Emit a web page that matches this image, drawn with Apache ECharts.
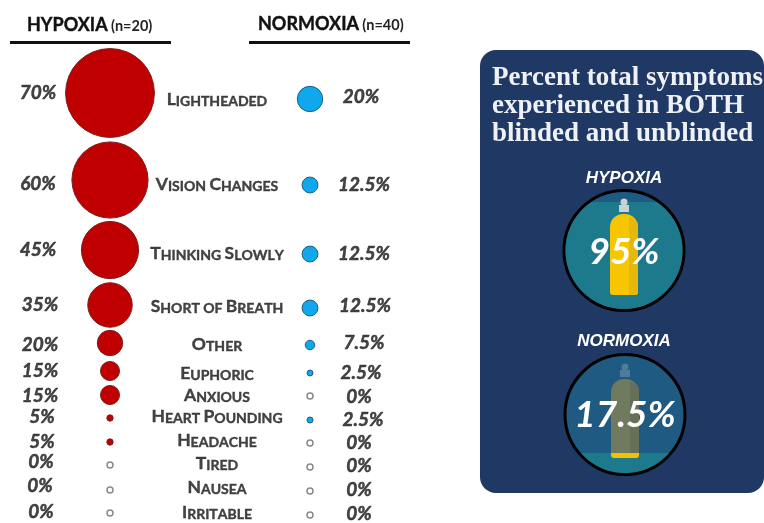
<!DOCTYPE html>
<html>
<head>
<meta charset="utf-8">
<title>Symptoms</title>
<style>
html,body{margin:0;padding:0;background:#fff;}
#main{width:764px;height:523px;}
</style>
<script src="https://cdn.jsdelivr.net/npm/echarts@6/dist/echarts.min.js"></script>
</head>
<body>
<div id="main"></div>
<script>
// values
var symptoms = ['Lightheaded','Vision Changes','Thinking Slowly','Short of Breath','Other','Euphoric','Anxious','Heart Pounding','Headache','Tired','Nausea','Irritable'];
var hypoxia = [70,60,45,35,20,15,15,5,5,0,0,0];
var normoxia = [20,12.5,12.5,12.5,7.5,2.5,0,2.5,0,0,0,0];
var totals = [95,17.5];

// row positions, the rows of the original are not evenly spaced
var hypoxiaY = [93,180,250,305,343,371,395,418,442,465,490,513];
var normoxiaY = [99,185,254,308,345,373,396,420,443,467,491,515];
var symptomY = [98.5,183.5,252.5,305.5,343.5,372.5,394.5,415.5,439.5,462.5,486.5,511.5];
var hypoxiaTextY = [93,184,250,305,345,371,396,417,442,462,486,512];
var normoxiaTextY = [97,185,254,306,343,373,397,420,443,466,490,514];
var hypoxiaTextX = [38,38,38,40,40,40,40,42,42,41,40,41];
var normoxiaTextX = [361,364,364,365,364,361,359,363,359,359,359,359];

function pairs(xs, ys, vals){
	return vals.map(function(v,i){
		return [typeof xs == 'number' ? xs : xs[i], ys[i], v];
	});
}

function bubbleSeries(name, x, ys, vals, color, border){
	return {
		name: name,
		type: 'scatter',
		silent: true,
		symbolSize: function(d){ return d[2] == 0 ? 6 : Math.max(d[2]*1.27, 6); },
		itemStyle: {opacity: 1},
		data: pairs(x, ys, vals).map(function(d){
			return {
				value: d,
				itemStyle: d[2] == 0 ?
					{color:'#fff', borderColor:'#8a8a8a', borderWidth:1.5} :
					{color:color, borderColor:border, borderWidth:1}
			};
		})
	};
}

function textSeries(name, xs, ys, vals){
	return {
		name: name,
		type: 'scatter',
		silent: true,
		symbolSize: 0,
		label: {
			show: true,
			position: 'inside',
			formatter: function(p){ return p.value[2] + '%'; },
			fontFamily: 'Lato',
			fontWeight: 'bold',
			fontStyle: 'italic',
			fontSize: 19,
			color: '#151515',
			textBorderColor: '#151515',
			textBorderWidth: 0.5
		},
		data: pairs(xs, ys, vals)
	};
}

// small caps: capitals stay big, the rest become small capitals
function smallCaps(s){
	return s.split('').map(function(c){
		if (c == ' ') return '{b| }';
		if (c == c.toUpperCase()) return '{a|' + c + '}';
		return '{b|' + c.toUpperCase() + '}';
	}).join('');
}

function circlePart(cx, cy, r, topY){
	// part of a circle below topY
	var pts = [];
	var a0 = Math.asin((topY-cy)/r);
	for (var i=0;i<=60;i++){
		var a = a0 + (Math.PI-2*a0)*i/60;
		pts.push([cx+r*Math.cos(a), cy+r*Math.sin(a)]);
	}
	return pts;
}

function bottle(cx, top, bottom, body, shade, cap){
	return [
		{type:'rect', shape:{x:cx-5,y:top-9,width:10,height:7}, style:{fill:cap}},
		{type:'circle', shape:{cx:cx,cy:top-12,r:3.5}, style:{fill:cap}},
		{type:'rect', shape:{x:cx-14,y:top,width:28,height:bottom-top,r:[13,13,3,3]}, style:{fill:body}},
		{type:'rect', shape:{x:cx+5,y:top+3,width:9,height:bottom-top-3,r:[0,10,3,0]}, style:{fill:shade}}
	];
}

var pct = function(v){ return v + '%'; };

var panel = [
	{type:'rect', shape:{x:480,y:50,width:284,height:443,r:16}, style:{fill:'#1f3864'}},
	{type:'text', x:492, y:64, style:{text:'Percent total symptoms\nexperienced in BOTH\nblinded and unblinded', fill:'#eef1f6', font:'bold 27px "Liberation Serif"', lineHeight:28}},
	{type:'text', x:624, y:178, style:{text:'HYPOXIA', fill:'#fff', font:'italic bold 17px "Liberation Sans"', align:'center', verticalAlign:'middle'}},
	{type:'circle', shape:{cx:624,cy:250.5,r:60}, style:{fill:'#1f5a82', stroke:'#000', lineWidth:3}},
	{type:'polygon', shape:{points:circlePart(624,250.5,58.5,202)}, style:{fill:'#1d7a8c'}}
].concat(bottle(624,214,295,'#f7c600','#e8b70c','#c9d2d4')).concat([
	{type:'text', x:624, y:252, style:{text:pct(totals[0]), fill:'#fff', font:'italic bold 37px Lato', align:'center', verticalAlign:'middle'}},
	{type:'text', x:624, y:341, style:{text:'NORMOXIA', fill:'#fff', font:'italic bold 17px "Liberation Sans"', align:'center', verticalAlign:'middle'}},
	{type:'circle', shape:{cx:625,cy:414.5,r:60}, style:{fill:'#1f5a82', stroke:'#000', lineWidth:3}},
	{type:'polygon', shape:{points:circlePart(625,414.5,58.5,453)}, style:{fill:'#1d7a8c'}}
]).concat(bottle(625,379,458,'#6f7a5f','#667058','#4f7c9c')).concat([
	{type:'rect', shape:{x:611,y:453,width:28,height:5,r:[0,0,3,3]}, style:{fill:'#f2c200'}},
	{type:'text', x:625, y:415, style:{text:pct(totals[1]), fill:'#fff', font:'italic bold 37px Lato', align:'center', verticalAlign:'middle'}}
]);

var headRich = {
	h:{fontFamily:'Lato',fontWeight:'bold',fontSize:18,fill:'#111',stroke:'#111',lineWidth:0.4,verticalAlign:'bottom',lineHeight:22},
	n:{fontFamily:'Lato',fontWeight:'bold',fontSize:14.5,fill:'#222',verticalAlign:'bottom',lineHeight:22}
};
var headers = [
	{type:'text', x:27, y:12, style:{rich:headRich, text:'{h|HYPOXIA} {n|(n=20)}'}},
	{type:'text', x:258, y:11, style:{rich:headRich, text:'{h|NORMOXIA} {n|(n=40)}'}},
	{type:'rect', shape:{x:10,y:41,width:161,height:3}, style:{fill:'#111'}},
	{type:'rect', shape:{x:249,y:41,width:161,height:3}, style:{fill:'#111'}}
];

var myChart = echarts.init(document.getElementById('main'));
myChart.setOption({
	animation: false,
	backgroundColor: '#fff',
	grid: {left:0,right:0,top:0,bottom:0},
	xAxis: {type:'value',min:0,max:764,show:false},
	yAxis: {type:'value',min:0,max:523,inverse:true,show:false},
	graphic: headers.concat(panel),
	series: [
		bubbleSeries('HYPOXIA',110,hypoxiaY,hypoxia,'#c00000','#7c1f1f'),
		bubbleSeries('NORMOXIA',310,normoxiaY,normoxia,'#10a8ec','#1f5f7f'),
		textSeries('hypoxia text',hypoxiaTextX,hypoxiaTextY,hypoxia),
		textSeries('normoxia text',normoxiaTextX,normoxiaTextY,normoxia),
		{
			name: 'symptoms',
			type: 'scatter',
			silent: true,
			symbolSize: 0,
			label: {
				show: true,
				position: 'inside',
				formatter: function(p){ return smallCaps(symptoms[p.dataIndex]); },
				rich: {
					a: {fontFamily:'Lato',fontWeight:'bold',fontSize:17.5,color:'#151515',textBorderColor:'#151515',textBorderWidth:0.4,verticalAlign:'bottom',lineHeight:20},
					b: {fontFamily:'Lato',fontWeight:'bold',fontSize:14,color:'#151515',textBorderColor:'#151515',textBorderWidth:0.4,verticalAlign:'bottom',lineHeight:20}
				}
			},
			data: symptoms.map(function(s,i){ return [217,symptomY[i]]; })
		}
	]
});
</script>
</body>
</html>
